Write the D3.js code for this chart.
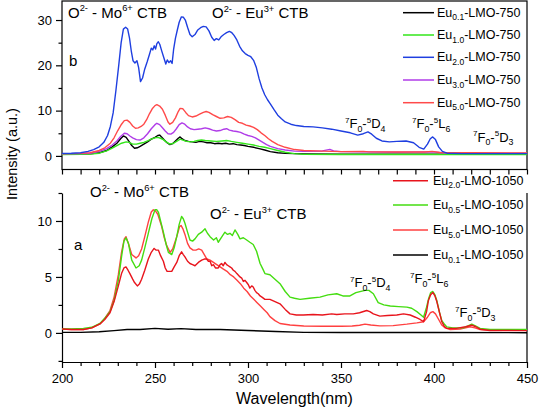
<!DOCTYPE html>
<html><head><meta charset="utf-8">
<script src="https://cdn.jsdelivr.net/npm/d3@7"></script>
<style>body{margin:0;background:#fff}svg{display:block}text{font-family:"Liberation Sans",Arial,sans-serif;fill:#000}</style>
</head><body>
<script>
// ---------- data (wavelength nm, intensity a.u.) ----------
const xTicks = [200,250,300,350,400,450];
const topYTicks = [0,10,20,30];
const botYTicks = [0,5,10];
const topLegend = ["0.1","1.0","2.0","3.0","5.0"];
const botLegend = ["2.0","0.5","5.0","0.1"];

const blue750 = [[200,0.55],[205,0.6],[210,0.7],[214,1.0],[217,1.4],[220,2.0],[222.5,3.0],[224.5,4.5],[226,6.5],[227.5,9.5],[229,14.5],[230.5,20],[231.8,25],[233,28.0],[234.2,28.4],[235.3,28.0],[236.3,26],[237.3,23],[238.2,21],[239.2,20.5],[240.3,21],[241.2,19.5],[242.2,16.4],[243.3,17.2],[244.5,19.2],[245.8,20.8],[247,22.4],[248,23.8],[248.8,23.4],[249.6,24.3],[250.3,23.6],[251,24.8],[251.8,25.2],[252.6,24.6],[253.6,23.2],[254.8,21.6],[255.8,20.3],[256.6,21.2],[257.5,20.6],[258.4,21.0],[259.2,20.4],[260,23.5],[261,26],[262,27.8],[263,29.5],[264.2,30.7],[265.3,30.6],[266.3,30.0],[267.5,28.4],[268.8,26.8],[270,26.3],[271.5,26.8],[273,27.8],[274.5,28.3],[276,28.6],[277.5,28.5],[279,27.6],[280.5,26.2],[281.8,25.5],[283,25.9],[284.3,25.6],[285.5,26.3],[287,26.8],[288.5,27.2],[290,27.5],[291.3,27.2],[292.5,26.6],[294,25.6],[295.5,24.2],[297,23.2],[298.5,22.6],[300,22.2],[301.5,21.9],[303,21.1],[304.5,19.5],[306,17.0],[307.5,15.0],[309,13.5],[310.5,12.4],[312,11.5],[314,10.2],[316,9.0],[318,8.2],[320,7.5],[323,7.0],[326,6.7],[330,6.5],[335,6.4],[340,6.2],[345,5.9],[350,5.5],[355,5.1],[359,4.6],[362,4.9],[364.5,5.3],[366.5,4.8],[369,3.9],[372,3.3],[376,3.1],[380,3.2],[385,3.3],[389,2.9],[392,1.9],[394.5,1.5],[396.5,2.6],[398,3.8],[399.3,4.2],[400.8,3.6],[402.5,2.0],[404.5,1.0],[407,0.6],[415,0.5],[430,0.5],[450,0.5]];
const red750 = [[200,0.5],[210,0.55],[215,0.7],[220,1.2],[223,1.8],[226,2.8],[228,4.0],[230,5.6],[232,7.0],[233.5,7.8],[235,7.9],[236.5,7.4],[238,6.6],[239.5,6.1],[241,6.2],[242.5,6.5],[244,7.0],[245.5,8.0],[247,9.3],[248.5,10.4],[250,11.1],[251,11.3],[252.5,11.0],[254,10.3],[255.5,9.0],[257,7.5],[258,7.0],[259.5,7.4],[261,8.4],[262.5,9.8],[263.5,10.5],[265,10.4],[266.5,9.6],[268,8.9],[270,8.6],[272,8.8],[274,9.2],[276,9.6],[277.5,9.8],[279,9.6],[281,9.1],[283,8.7],[285,8.3],[287,8.4],[289,8.7],[291,8.5],[293,8.0],[295,7.4],[297,7.2],[299,6.8],[301,6.6],[303,6.3],[305,5.8],[307,5.1],[309,4.5],[311,3.8],[313,3.2],[316,2.5],[320,1.9],[325,1.4],[330,1.2],[340,1.05],[350,0.95],[362,1.0],[365,0.9],[380,0.85],[395,0.85],[399,1.0],[403,0.75],[420,0.7],[450,0.65]];
const purple750 = [[200,0.45],[210,0.5],[215,0.6],[220,1.0],[224,1.6],[227,2.4],[229.5,3.3],[231.5,4.3],[233.5,5.0],[235,4.9],[236.5,4.4],[238,4.0],[240,3.6],[242,3.5],[244,4.0],[246,4.9],[248,6.0],[250,6.9],[251,7.2],[252.5,6.9],[254,6.2],[255.5,5.5],[257,4.9],[258.5,4.8],[260,5.2],[261.5,6.0],[263,6.9],[264.5,7.3],[266,7.0],[267.5,6.4],[269,6.0],[271,5.8],[273,5.9],[275,6.0],[277,6.2],[279,6.0],[281,5.7],[283,5.5],[285,5.6],[287,5.9],[288.5,6.0],[290,5.7],[292,5.5],[294,5.4],[296,5.2],[298,4.8],[300,4.5],[302,4.3],[304,4.0],[306,3.5],[308,3.0],[310,2.5],[312,2.1],[316,1.6],[320,1.3],[325,1.05],[330,1.0],[340,1.1],[344,1.45],[346,1.1],[350,0.95],[360,0.9],[380,0.8],[399,0.9],[405,0.7],[450,0.6]];
const black750 = [[200,0.35],[210,0.4],[215,0.45],[220,0.7],[224,1.2],[227,2.0],[229.5,2.8],[231.5,3.8],[233,4.4],[234.5,4.1],[236,3.2],[237.5,2.3],[239,1.7],[240.5,1.8],[242,2.1],[244,2.6],[246,3.1],[248,3.7],[250,4.1],[251.5,4.5],[252.5,4.6],[253.5,4.2],[255,3.5],[256.5,2.9],[258,2.5],[259.5,2.7],[261,3.3],[262.5,3.9],[263.5,4.2],[264.5,3.8],[266,3.4],[268,3.2],[270,3.1],[272,3.0],[274,3.2],[276,3.1],[278,2.9],[280,2.9],[282,2.7],[284,2.8],[286,2.7],[288,2.8],[290,2.6],[292,2.7],[294,2.5],[296,2.4],[298,2.3],[300,2.1],[303,1.9],[306,1.6],[309,1.3],[312,0.95],[316,0.7],[320,0.55],[330,0.45],[350,0.4],[400,0.4],[450,0.4]];
const green750 = [[200,0.3],[210,0.35],[215,0.4],[220,0.6],[224,1.1],[227,1.7],[230,2.4],[232,2.8],[234.5,3.1],[236,3.0],[238,2.6],[240,2.6],[242,2.8],[244,3.0],[246,3.3],[248,3.7],[250,4.0],[251.5,4.1],[253,3.9],[254.5,3.6],[256,3.1],[258,2.6],[260,2.8],[262,3.3],[263.5,3.7],[265,3.5],[267,3.2],[269,3.1],[271,3.2],[273,3.4],[275,3.5],[277,3.4],[280,3.3],[283,3.2],[286,3.3],[288.5,3.4],[291,3.2],[294,3.0],[297,2.8],[300,2.6],[303,2.4],[306,2.1],[309,1.9],[312,1.6],[316,1.2],[320,0.8],[325,0.5],[330,0.35],[350,0.3],[400,0.3],[450,0.3]];

const green1050 = [[200,0.35],[205,0.35],[211.5,0.4],[216,0.5],[220.4,0.84],[223,1.3],[225.8,1.9],[228,2.9],[230.3,4.7],[232,6.8],[233.3,8.2],[234.4,8.5],[235.7,8.0],[237.5,6.5],[239.8,5.8],[241.5,6.0],[242.8,6.5],[244.5,7.6],[246.4,8.9],[248.3,10.2],[250,11.0],[251,11.0],[251.8,10.8],[253,10.0],[254.5,9.0],[256,7.9],[257.2,7.2],[259,7.0],[260.3,7.6],[261.7,8.6],[263,9.7],[264.3,10.4],[265.2,10.2],[266.1,9.8],[267.5,9.0],[268.8,8.3],[270.2,8.2],[271.5,8.4],[273.3,8.8],[275.1,9.0],[276.9,9.3],[278.2,8.9],[279.6,8.6],[281.5,8.3],[283,8.5],[284,8.1],[286,8.6],[287.6,9.0],[289,8.8],[290.3,8.9],[291.6,8.7],[293,9.2],[294.5,8.8],[295.7,8.4],[297.5,8.5],[299.3,8.3],[301,8.1],[302.8,7.9],[304.6,7.3],[306.5,6.2],[308,5.7],[309.1,5.3],[311.8,5.2],[314.5,4.8],[317.2,4.4],[320,3.7],[322.6,3.2],[325,3.1],[328,3.0],[333,3.1],[338.7,3.2],[343,3.4],[347.7,3.5],[351,3.3],[354.8,3.3],[358,3.6],[362.9,3.8],[365,3.8],[367.4,3.5],[370,2.7],[373,2.5],[376.5,2.4],[381,2.35],[385.4,2.3],[388,2.2],[390.8,1.9],[393,1.6],[394.4,1.4],[396,2.3],[397,3.0],[398.2,3.6],[399.4,3.7],[400.5,3.4],[401.5,2.9],[403,1.8],[404.2,1.1],[405.5,0.8],[406.9,0.54],[410,0.45],[415.8,0.45],[418,0.6],[420.3,0.78],[422.5,0.6],[424.8,0.4],[430.2,0.3],[440,0.3],[450,0.3]];
const red1050a = [[200,0.35],[205,0.3],[211.5,0.3],[216,0.45],[220.4,0.8],[223,1.3],[225.8,2.0],[228,3.2],[230.3,5.2],[232,7.2],[233.5,8.4],[234.4,8.6],[235.7,8.0],[237.5,7.0],[239.8,6.7],[241.2,6.9],[242.8,7.5],[244.5,8.6],[246.4,9.9],[248,10.8],[249.1,11.0],[250.2,10.9],[251.5,10.6],[253.6,9.5],[255,8.5],[256.3,7.8],[258.1,7.2],[259.5,7.5],[261.7,8.6],[263.2,9.5],[264,9.6],[265,9.3],[266.1,8.8],[267.5,8.0],[268.8,7.6],[270.5,7.4],[272,7.4],[273.5,7.5],[275.1,7.4],[276.5,7.0],[277.9,6.6],[279.6,6.5],[281.4,6.3],[283.2,6.1],[285,5.9],[286.8,5.7],[288.7,5.5],[290.5,5.2],[292.3,5.0],[294.1,4.7],[295.9,4.4],[297.7,4.0],[299.5,3.7],[301.3,3.3],[303.1,3.0],[304.9,2.7],[306.7,2.4],[308.5,2.1],[310.3,1.8],[311.8,1.45],[314.5,1.1],[317.2,0.84],[322.6,0.7],[330,0.62],[340,0.6],[350,0.6],[356,0.62],[360,0.68],[362.9,0.78],[366,0.7],[370.9,0.63],[378,0.65],[385.4,0.78],[390.8,0.9],[394.4,1.0],[396.5,1.4],[398,1.8],[399.4,1.9],[400.8,1.7],[402.5,1.2],[404.2,0.7],[406,0.45],[408.7,0.3],[414,0.35],[419.4,0.55],[422,0.45],[424.8,0.3],[430,0.25],[450,0.25]];
const red1050b = [[200,0.35],[205,0.3],[211.5,0.3],[216,0.45],[220.4,0.8],[223,1.2],[225.8,1.8],[228,2.8],[230.3,4.2],[232,5.3],[233.3,5.8],[234.4,5.9],[235.5,5.6],[236.5,5.3],[238,4.8],[239,4.5],[240.5,4.2],[241.7,4.4],[242.8,4.8],[244.5,5.6],[246.4,6.6],[248,7.2],[249.5,7.55],[250.5,7.4],[251.8,7.4],[253,6.9],[254.5,6.4],[255.5,5.8],[256.5,5.5],[258,5.5],[259,5.5],[260.3,5.9],[261.7,6.3],[263,6.9],[264.3,7.25],[265.2,7.0],[266.1,6.8],[267.5,6.4],[268.8,6.2],[270.2,6.1],[271.5,6.0],[273.3,6.3],[275.1,6.5],[276.5,6.6],[277.8,6.6],[278.7,6.4],[279.6,6.4],[280.5,6.0],[281.4,6.1],[282.5,5.8],[284,5.8],[285,6.1],[285.8,6.2],[286.7,6.0],[287.6,6.3],[288.5,6.1],[289.4,6.0],[290.3,5.9],[291.2,5.8],[292.1,5.6],[293,5.5],[294,5.3],[295.7,5.0],[296.6,4.9],[297.5,4.6],[298.4,4.7],[299.3,4.5],[300.2,4.3],[301,4.0],[302,4.2],[302.8,4.1],[303.7,3.8],[304.6,3.6],[305.5,3.5],[306.5,3.3],[307.5,3.2],[309.1,3.0],[310.5,3.0],[311.8,3.0],[314.5,2.8],[317.2,2.6],[320,2.1],[322.6,1.7],[326,1.6],[329.7,1.6],[335,1.65],[340,1.6],[345,1.7],[347.7,1.65],[352,1.7],[356.6,1.7],[360,1.8],[363.8,2.0],[365.5,1.9],[367.4,1.7],[370.9,1.5],[375,1.55],[380,1.6],[383.6,1.7],[387.2,1.6],[390,1.4],[392.5,1.2],[394.4,1.0],[396,1.9],[397,2.9],[398.2,3.4],[399.4,3.6],[400.5,3.3],[401.5,2.8],[403,1.8],[404.2,1.0],[405.5,0.6],[406.9,0.4],[412,0.4],[417,0.55],[420.3,0.7],[422.5,0.55],[424.8,0.33],[430,0.22],[450,0.2]];
const black1050 = [[200,0.05],[210,0.05],[220,0.1],[228,0.2],[235,0.3],[242,0.3],[250,0.4],[257,0.32],[264,0.38],[272,0.3],[285,0.3],[300,0.22],[315,0.12],[330,0.05],[350,0.03],[400,0.03],[450,0.02]];

// ---------- layout ----------
const W = 539, H = 412;
const L = 62, R = 527;
const svg = d3.select("body").append("svg").attr("width", W).attr("height", H);

const x = d3.scaleLinear().domain([200,450]).range([L,R]);
const yT = d3.scaleLinear().domain([-3,34.2]).range([169.5,1]);
const yB = d3.scaleLinear().domain([-2.6,12.5]).range([362,193]);

const defs = svg.append("defs");
defs.append("clipPath").attr("id","ct").append("rect").attr("x",L).attr("y",1).attr("width",R-L).attr("height",168.5);
defs.append("clipPath").attr("id","cb").append("rect").attr("x",L).attr("y",193).attr("width",R-L).attr("height",169);

function rich(g, xPos, yPos, parts, size, anchor){
  const t = g.append("text").attr("x",xPos).attr("y",yPos).attr("font-size",size).attr("text-anchor",anchor||"start");
  let cur = 0;
  parts.forEach(p=>{
    const s = t.append("tspan").text(p[0]);
    let target = 0, fs = size;
    if(p[1]==="sup"){ target = -size*0.42; fs = size*0.62; }
    else if(p[1]==="sub"){ target = size*0.28; fs = size*0.68; }
    s.attr("font-size",fs).attr("dy", target-cur);
    cur = target;
  });
  return t;
}

// ---------- axes ----------
function styleAxis(g){ g.selectAll("path,line").attr("stroke","#000").attr("stroke-width",1.2); g.selectAll("text").attr("font-size",13).attr("fill","#000").attr("font-family","Liberation Sans, Arial, sans-serif"); }

// top panel box
svg.append("rect").attr("x",L).attr("y",1).attr("width",R-L).attr("height",168.5).attr("fill","none").attr("stroke","#000").attr("stroke-width",1.2);
// top left axis
let g = svg.append("g").attr("transform",`translate(${L},0)`).call(d3.axisLeft(yT).tickValues(topYTicks).tickSize(6).tickPadding(4).tickSizeOuter(0));
styleAxis(g); g.select(".domain").remove();
g = svg.append("g").attr("transform",`translate(${L},0)`).call(d3.axisLeft(yT).tickValues([5,15,25]).tickSize(3.5).tickFormat(""));
styleAxis(g); g.select(".domain").remove();
// top bottom axis (no labels)
g = svg.append("g").attr("transform",`translate(0,169.5)`).call(d3.axisBottom(x).tickValues(d3.range(200,451,10)).tickSize(5).tickFormat(""));
styleAxis(g); g.select(".domain").remove();

// bottom panel axes
g = svg.append("g").attr("transform",`translate(${L},0)`).call(d3.axisLeft(yB).tickValues(botYTicks).tickSize(6).tickPadding(4).tickSizeOuter(0));
styleAxis(g);
g = svg.append("g").attr("transform",`translate(${L},0)`).call(d3.axisLeft(yB).tickValues([-2.5,2.5,7.5,12.5]).tickSize(3.5).tickFormat(""));
styleAxis(g); g.select(".domain").remove();
g = svg.append("g").attr("transform",`translate(0,362)`).call(d3.axisBottom(x).tickValues(xTicks).tickSize(6).tickPadding(6).tickSizeOuter(0));
styleAxis(g);
g = svg.append("g").attr("transform",`translate(0,362)`).call(d3.axisBottom(x).tickValues(d3.range(210,450,10).filter(v=>v%50)).tickSize(4).tickFormat(""));
styleAxis(g); g.select(".domain").remove();
svg.append("line").attr("x1",R).attr("x2",R).attr("y1",193).attr("y2",362).attr("stroke","#000").attr("stroke-width",1.2);

// ---------- curves ----------
const topSeries = [
  {d:black750, c:"#000000"},
  {d:green750, c:"#33e61a"},
  {d:purple750, c:"#b03ce8"},
  {d:red750, c:"#ff4a4a"},
  {d:blue750, c:"#1f3fe0"}
];
const lineT = d3.line().x(d=>x(d[0])).y(d=>yT(d[1]));
svg.append("g").attr("clip-path","url(#ct)").selectAll("path").data(topSeries).join("path")
  .attr("d",s=>lineT(s.d)).attr("fill","none").attr("stroke",s=>s.c).attr("stroke-width",1.4).attr("stroke-linejoin","round");

const botSeries = [
  {d:black1050, c:"#000000"},
  {d:red1050a, c:"#ff4040"},
  {d:green1050, c:"#44dd10"},
  {d:red1050b, c:"#e8141c"}
];
const lineB = d3.line().x(d=>x(d[0])).y(d=>yB(d[1]));
svg.append("g").attr("clip-path","url(#cb)").selectAll("path").data(botSeries).join("path")
  .attr("d",s=>lineB(s.d)).attr("fill","none").attr("stroke",s=>s.c).attr("stroke-width",1.4).attr("stroke-linejoin","round");

// ---------- legends ----------
const topLegColors = ["#000000","#33e61a","#1f3fe0","#b03ce8","#ff4a4a"];
const topRows = [12.7,35,57.3,80,102.7];
topLegend.forEach((lab,i)=>{
  svg.append("line").attr("x1",403).attr("x2",434).attr("y1",topRows[i]).attr("y2",topRows[i]).attr("stroke",topLegColors[i]).attr("stroke-width",1.5);
  rich(svg, 437, topRows[i]+4, [["Eu"],[lab,"sub"],["-LMO-750"]], 12.5);
});
const botLegColors = ["#e8141c","#44dd10","#ff4040","#000000"];
const botRows = [180.7,205,230,255];
botLegend.forEach((lab,i)=>{
  svg.append("line").attr("x1",393).attr("x2",428).attr("y1",botRows[i]).attr("y2",botRows[i]).attr("stroke",botLegColors[i]).attr("stroke-width",1.5);
  rich(svg, 433, botRows[i]+4, [["Eu"],[lab,"sub"],["-LMO-1050"]], 12.5);
});

// ---------- annotations ----------
rich(svg, 68, 17.5, [["O"],["2-","sup"],[" - Mo"],["6+","sup"],[" CTB"]], 15);
rich(svg, 212, 18, [["O"],["2-","sup"],[" - Eu"],["3+","sup"],[" CTB"]], 15);
svg.append("text").attr("x",69).attr("y",66).attr("font-size",15).text("b");
rich(svg, 345, 128, [["7","sup"],["F"],["0","sub"],["-"],["5","sup"],["D"],["4","sub"]], 13);
rich(svg, 412, 128, [["7","sup"],["F"],["0","sub"],["-"],["5","sup"],["L"],["6","sub"]], 13);
rich(svg, 473, 141.5, [["7","sup"],["F"],["0","sub"],["-"],["5","sup"],["D"],["3","sub"]], 13);

rich(svg, 90, 197, [["O"],["2-","sup"],[" - Mo"],["6+","sup"],[" CTB"]], 15);
rich(svg, 210, 219, [["O"],["2-","sup"],[" - Eu"],["3+","sup"],[" CTB"]], 15);
svg.append("text").attr("x",74).attr("y",250).attr("font-size",15).text("a");
rich(svg, 350, 287, [["7","sup"],["F"],["0","sub"],["-"],["5","sup"],["D"],["4","sub"]], 13);
rich(svg, 410, 283, [["7","sup"],["F"],["0","sub"],["-"],["5","sup"],["L"],["6","sub"]], 13);
rich(svg, 455, 317, [["7","sup"],["F"],["0","sub"],["-"],["5","sup"],["D"],["3","sub"]], 13);

// axis titles
svg.append("text").attr("x",(L+R)/2).attr("y",404).attr("text-anchor","middle").attr("font-size",16).text("Wavelength(nm)");
svg.append("text").attr("transform","translate(17,154) rotate(-90)").attr("text-anchor","middle").attr("font-size",14.5).text("Intensity (a.u.)");
</script>
</body></html>
